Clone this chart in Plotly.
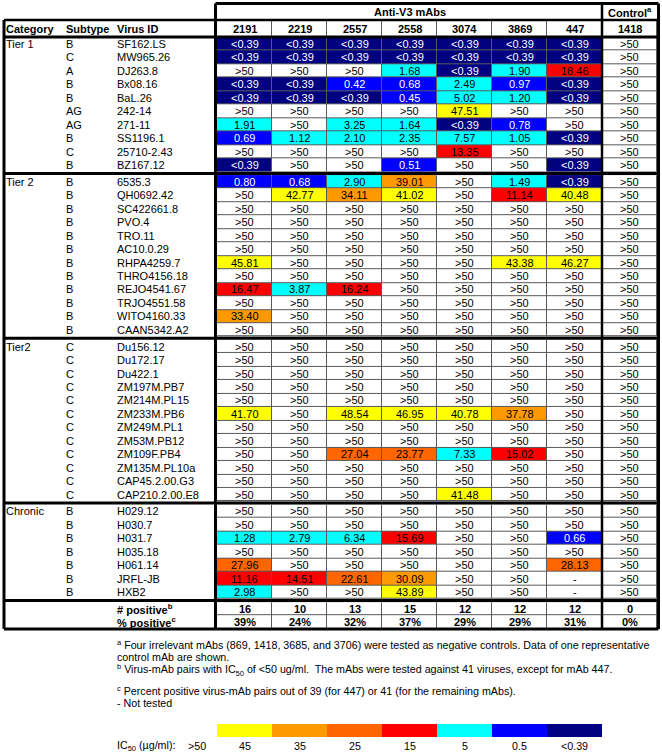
import plotly.graph_objects as go

# ---------------- data ----------------
mab_ids = ["2191", "2219", "2557", "2558", "3074", "3869", "447"]
control_ids = ["1418"]
column_ids = mab_ids + control_ids

category_labels = ["Tier 1", "Tier 2", "Tier2", "Chronic"]

NEG = [">50"] * 8

tier1_subtypes = ["B", "C", "A", "B", "B", "AG", "AG", "B", "C", "B"]
tier1_viruses = ["SF162.LS", "MW965.26", "DJ263.8", "Bx08.16", "BaL.26",
                 "242-14", "271-11", "SS1196.1", "25710-2.43", "BZ167.12"]
tier1_values = [
    ["<0.39", "<0.39", "<0.39", "<0.39", "<0.39", "<0.39", "<0.39", ">50"],
    ["<0.39", "<0.39", "<0.39", "<0.39", "<0.39", "<0.39", "<0.39", ">50"],
    [">50", ">50", ">50", "1.68", "<0.39", "1.90", "18.46", ">50"],
    ["<0.39", "<0.39", "0.42", "0.68", "2.49", "0.97", "<0.39", ">50"],
    ["<0.39", "<0.39", "<0.39", "0.45", "5.02", "1.20", "<0.39", ">50"],
    [">50", ">50", ">50", ">50", "47.51", ">50", ">50", ">50"],
    ["1.91", ">50", "3.25", "1.64", "<0.39", "0.78", ">50", ">50"],
    ["0.69", "1.12", "2.10", "2.35", "7.57", "1.05", "<0.39", ">50"],
    [">50", ">50", ">50", ">50", "13.35", ">50", ">50", ">50"],
    ["<0.39", ">50", ">50", "0.51", ">50", ">50", "<0.39", ">50"],
]

tier2b_subtypes = ["B"] * 12
tier2b_viruses = ["6535.3", "QH0692.42", "SC422661.8", "PVO.4", "TRO.11", "AC10.0.29",
                  "RHPA4259.7", "THRO4156.18", "REJO4541.67", "TRJO4551.58",
                  "WITO4160.33", "CAAN5342.A2"]
tier2b_values = [
    ["0.80", "0.68", "2.90", "39.01", ">50", "1.49", "<0.39", ">50"],
    [">50", "42.77", "34.11", "41.02", ">50", "11.14", "40.48", ">50"],
    NEG, NEG, NEG, NEG,
    ["45.81", ">50", ">50", ">50", ">50", "43.38", "46.27", ">50"],
    NEG,
    ["16.47", "3.87", "16.24", ">50", ">50", ">50", ">50", ">50"],
    NEG,
    ["33.40", ">50", ">50", ">50", ">50", ">50", ">50", ">50"],
    NEG,
]

tier2c_subtypes = ["C"] * 12
tier2c_viruses = ["Du156.12", "Du172.17", "Du422.1", "ZM197M.PB7", "ZM214M.PL15",
                  "ZM233M.PB6", "ZM249M.PL1", "ZM53M.PB12", "ZM109F.PB4",
                  "ZM135M.PL10a", "CAP45.2.00.G3", "CAP210.2.00.E8"]
tier2c_values = [
    NEG, NEG, NEG, NEG, NEG,
    ["41.70", ">50", "48.54", "46.95", "40.78", "37.78", ">50", ">50"],
    NEG, NEG,
    [">50", ">50", "27.04", "23.77", "7.33", "15.02", ">50", ">50"],
    NEG, NEG,
    [">50", ">50", ">50", ">50", "41.48", ">50", ">50", ">50"],
]

chronic_subtypes = ["B"] * 7
chronic_viruses = ["H029.12", "H030.7", "H031.7", "H035.18", "H061.14", "JRFL-JB", "HXB2"]
chronic_values = [
    NEG, NEG,
    ["1.28", "2.79", "6.34", "15.69", ">50", ">50", "0.66", ">50"],
    NEG,
    ["27.96", ">50", ">50", ">50", ">50", ">50", "28.13", ">50"],
    ["11.16", "14.51", "22.61", "30.09", ">50", ">50", "-", ">50"],
    ["2.98", ">50", ">50", "43.89", ">50", ">50", "-", ">50"],
]

summary_labels = ["# positive<sup>b</sup>", "% positive<sup>c</sup>"]
n_positive = ["16", "10", "13", "15", "12", "12", "12", "0"]
pct_positive = ["39%", "24%", "32%", "37%", "29%", "29%", "31%", "0%"]

legend_labels = ["45", "35", "25", "15", "5", "0.5", "<0.39"]
legend_classes = [1, 2, 3, 4, 5, 6, 7]

footnotes = [
    "<sup>a</sup> Four irrelevant mAbs (869, 1418, 3685, and 3706) were tested as negative controls. Data of one representative",
    "control mAb are shown.",
    "<sup>b</sup> Virus-mAb pairs with IC<sub>50</sub> of &lt;50 ug/ml.  The mAbs were tested against 41 viruses, except for mAb 447.",
    "<sup>c</sup> Percent positive virus-mAb pairs out of 39 (for 447) or 41 (for the remaining mAbs).",
    "- Not tested",
]

# ---------------- styling ----------------
class_colors = ["#FFFFFF", "#FFFF00", "#FF9900", "#FF6600", "#FF0000",
                "#00FFFF", "#0000FF", "#000080"]
class_thresholds = [40, 30, 20, 10, 1, 0.39]
FONT = "Liberation Sans, Arial, Helvetica, sans-serif"
DATA_SIZE = 11
FOOT_SIZE = 10.7
GRID = "#5a5a5a"

W, H = 662, 754
COL_W, COL0 = 55.0, 244.5      # px per column, px of first column center
ROW_H, ROW0 = 13.45, 44.0      # px per row, px of first row center
GAP = 0.25                     # extra gap between groups (rows)


def px_x(p):
    return (p - COL0) / COL_W


def px_y(p):
    return (p - ROW0) / ROW_H


def ic50_class(s):
    if s in (">50", "-"):
        return 0
    if s.startswith("<"):
        return 7
    v = float(s)
    for k, t in enumerate(class_thresholds):
        if v >= t:
            return k + 1
    return 7


def esc(s):
    return s.replace("<", "&lt;").replace(">", "&gt;")


ncls = len(class_colors)
colorscale = []
for k, c in enumerate(class_colors):
    colorscale.append([k / ncls, c])
    colorscale.append([(k + 1) / ncls, c])

ncol = len(column_ids)
x_edges = [j - 0.5 for j in range(ncol + 1)]

fig = go.Figure()
annotations = []
shapes = []


def add_grid_block(z, y_edges, xe=x_edges):
    shapes.append(dict(type="rect", xref="x", yref="y", layer="below",
                       x0=xe[0], x1=xe[-1], y0=y_edges[0], y1=y_edges[-1],
                       fillcolor=GRID, line=dict(width=0)))
    fig.add_trace(go.Heatmap(z=z, x=xe, y=y_edges, zmin=-0.5, zmax=ncls - 0.5,
                             colorscale=colorscale, showscale=False, xgap=1, ygap=1,
                             hoverinfo="skip"))


def cell_text(x, y, s, color="black", bold=False, size=DATA_SIZE):
    t = esc(s)
    if bold:
        t = "<b>" + t + "</b>"
    annotations.append(dict(x=x, y=y, xref="x", yref="y", text=t, showarrow=False,
                            xanchor="center", yanchor="middle",
                            font=dict(family=FONT, size=size, color=color)))


def left_text(px, y, s, size=DATA_SIZE, bold=False):
    t = "<b>" + s + "</b>" if bold else s
    annotations.append(dict(x=px_x(px), y=y, xref="x", yref="y", text=t, showarrow=False,
                            xanchor="left", yanchor="middle",
                            font=dict(family=FONT, size=size, color="black")))


groups = [
    (category_labels[0], tier1_subtypes, tier1_viruses, tier1_values),
    (category_labels[1], tier2b_subtypes, tier2b_viruses, tier2b_values),
    (category_labels[2], tier2c_subtypes, tier2c_viruses, tier2c_values),
    (category_labels[3], chronic_subtypes, chronic_viruses, chronic_values),
]

CAT_PX, SUB_PX, VIR_PX = 4, 64, 115
boundaries = []
idx = 0
for g, (cat, subs, virs, vals) in enumerate(groups):
    ys = [idx + i + GAP * g for i in range(len(vals))]
    y_edges = [y - 0.5 for y in ys] + [ys[-1] + 0.5]
    z = [[ic50_class(s) for s in row] for row in vals]
    add_grid_block(z, y_edges)
    for i, row in enumerate(vals):
        for j, s in enumerate(row):
            c = ic50_class(s)
            cell_text(j, ys[i], s, color="white" if c >= 6 else "black")
        left_text(SUB_PX, ys[i], subs[i])
        left_text(VIR_PX, ys[i], virs[i])
    left_text(CAT_PX, ys[0], cat)
    boundaries.append(y_edges[-1] + GAP / 2)
    idx += len(vals)

# summary rows
gs = len(groups)
ys_sum = [idx + i + GAP * gs for i in range(2)]
y_edges_sum = [y - 0.5 for y in ys_sum] + [ys_sum[-1] + 0.5]
add_grid_block([[0] * ncol, [0] * ncol], y_edges_sum)
for j in range(ncol):
    cell_text(j, ys_sum[0], n_positive[j], bold=True)
    cell_text(j, ys_sum[1], pct_positive[j], bold=True)
left_text(VIR_PX, ys_sum[0], summary_labels[0], bold=True)
left_text(VIR_PX, ys_sum[1], summary_labels[1], bold=True)
table_bottom = y_edges_sum[-1]

# header rows
hdr_top, hdr_mid, hdr_bot = px_y(3.5), px_y(20), px_y(37)
add_grid_block([[0] * ncol], [hdr_mid, hdr_bot])
for j, cid in enumerate(column_ids):
    cell_text(j, (hdr_mid + hdr_bot) / 2, cid, bold=True)
left_text(CAT_PX, (hdr_mid + hdr_bot) / 2, "Category", bold=True)
left_text(SUB_PX, (hdr_mid + hdr_bot) / 2, "Subtype", bold=True)
left_text(VIR_PX, (hdr_mid + hdr_bot) / 2, "Virus ID", bold=True)
annotations.append(dict(x=(len(mab_ids) - 1) / 2, y=(hdr_top + hdr_mid) / 2, xref="x", yref="y",
                        text="<b>Anti-V3 mAbs</b>", showarrow=False,
                        font=dict(family=FONT, size=DATA_SIZE, color="black")))
annotations.append(dict(x=len(mab_ids), y=(hdr_top + hdr_mid) / 2, xref="x", yref="y",
                        text="<b>Control<sup>a</sup></b>", showarrow=False,
                        font=dict(family=FONT, size=DATA_SIZE, color="black")))

# thick borders
xL, xV, xR = px_x(4), x_edges[0] - 1.5 / COL_W, x_edges[-1] + 1.5 / COL_W
xC = x_edges[-2]
TH = 3


def hline(y, x0, x1, w=TH):
    shapes.append(dict(type="line", xref="x", yref="y", x0=x0, x1=x1, y0=y, y1=y,
                       line=dict(color="black", width=w)))


def vline(x, y0, y1, w=TH):
    shapes.append(dict(type="line", xref="x", yref="y", x0=x, x1=x, y0=y0, y1=y1,
                       line=dict(color="black", width=w)))


hline(hdr_top, xV, xR)
hline(hdr_mid, xL, xR, 2.5)
hline(hdr_bot, xL, xR)
for b in boundaries:
    hline(b, xL, xR)
hline(table_bottom, xL, xR)
vline(xL, hdr_mid, table_bottom)
vline(xV, hdr_top, table_bottom)
vline(xC, hdr_top, table_bottom, 2.5)
vline(xR, hdr_top, table_bottom)

# footnotes
foot_py = [644, 657, 670, 690, 703]
for t, p in zip(footnotes, foot_py):
    annotations.append(dict(x=px_x(VIR_PX), y=px_y(p), xref="x", yref="y", text=t,
                            showarrow=False, xanchor="left", yanchor="middle",
                            font=dict(family=FONT, size=FOOT_SIZE, color="black")))

# colour legend
leg_edges = x_edges[:len(legend_classes) + 1]
fig.add_trace(go.Heatmap(z=[legend_classes], x=leg_edges, y=[px_y(724), px_y(737)],
                         zmin=-0.5, zmax=ncls - 0.5, colorscale=colorscale,
                         showscale=False, hoverinfo="skip"))
leg_y = px_y(745.5)
for j, lab in enumerate(legend_labels):
    cell_text(j, leg_y, lab, size=FOOT_SIZE)
annotations.append(dict(x=px_x(197), y=leg_y, xref="x", yref="y", text="&gt;50",
                        showarrow=False, xanchor="center", yanchor="middle",
                        font=dict(family=FONT, size=FOOT_SIZE, color="black")))
annotations.append(dict(x=px_x(VIR_PX), y=leg_y, xref="x", yref="y",
                        text="IC<sub>50</sub> (µg/ml):", showarrow=False,
                        xanchor="left", yanchor="middle",
                        font=dict(family=FONT, size=FOOT_SIZE, color="black")))

fig.update_layout(
    width=W, height=H, autosize=False,
    margin=dict(l=0, r=0, t=0, b=0, pad=0),
    paper_bgcolor="white", plot_bgcolor="white",
    showlegend=False,
    xaxis=dict(range=[px_x(0), px_x(W)], visible=False, fixedrange=True),
    yaxis=dict(range=[px_y(H), px_y(0)], visible=False, fixedrange=True),
    annotations=annotations, shapes=shapes,
)

fig.write_html("out.html", config={"displayModeBar": False, "staticPlot": True},
               post_script="document.body.style.margin='0';document.body.style.padding='0';")
